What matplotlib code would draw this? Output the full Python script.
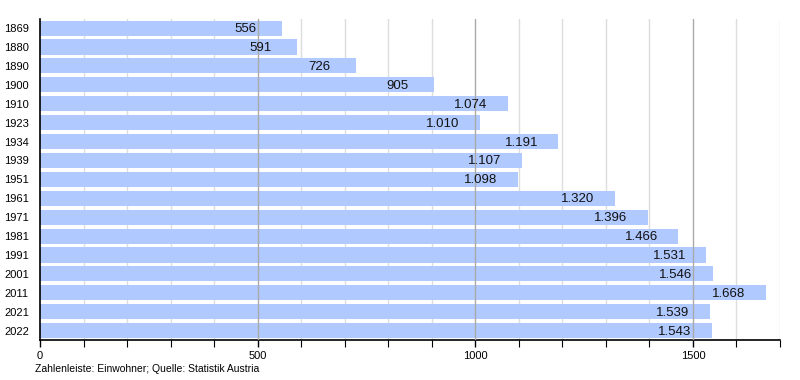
"""Einwohnerentwicklung as horizontal bar chart."""
import matplotlib
matplotlib.use("Agg")
import matplotlib.pyplot as plt
from matplotlib.ticker import MultipleLocator

YEARS = ["1869", "1880", "1890", "1900", "1910", "1923", "1934", "1939", "1951",
         "1961", "1971", "1981", "1991", "2001", "2011", "2021", "2022"]
POPULATION = [556, 591, 726, 905, 1074, 1010, 1191, 1107, 1098,
              1320, 1396, 1466, 1531, 1546, 1668, 1539, 1543]
X_TICKS = [0, 500, 1000, 1500]
FOOTNOTE = "Zahlenleiste: Einwohner; Quelle: Statistik Austria"

BAR_COLOR = "#b0c9ff"

plt.rcParams["font.family"] = ["Liberation Sans", "DejaVu Sans"]


def fmt_de(n: int) -> str:
    return f"{n:,}".replace(",", ".")


def main() -> None:
    fig = plt.figure(figsize=(8, 3.8), dpi=100)
    ax = fig.add_axes([0.05, 0.105, 0.925, 0.846])

    ypos = list(range(len(YEARS)))
    ax.barh(ypos, POPULATION, height=0.8, color=BAR_COLOR, zorder=2)

    for y, v in zip(ypos, POPULATION):
        ax.annotate(fmt_de(v), (v, y), xytext=(-37, -1), textcoords="offset pixels",
                    ha="center", va="center", fontsize=9.5, color="#111111", zorder=4)

    ax.set_xlim(0, 1700)
    ax.set_ylim(len(YEARS) - 0.5, -0.5)
    ax.set_yticks(ypos)
    ax.set_yticklabels(YEARS, fontsize=8)
    ax.set_xticks(X_TICKS)
    ax.set_xticklabels([str(t) for t in X_TICKS], fontsize=8)
    ax.xaxis.set_minor_locator(MultipleLocator(100))

    ax.tick_params(axis="y", length=0, pad=8)
    ax.tick_params(axis="x", which="major", length=5, width=1, pad=3)
    ax.tick_params(axis="x", which="minor", length=5, width=0.8)

    # light minor grid under the bars, darker major grid over them
    for v in range(100, 1800, 100):
        if v % 500 == 0:
            ax.axvline(v, color="#aaaaaa", lw=1, zorder=3)
        else:
            ax.axvline(v, color="#dddddd", lw=1, zorder=1)

    for side in ("top", "right"):
        ax.spines[side].set_visible(False)
    ax.spines["left"].set_linewidth(1.2)
    ax.spines["bottom"].set_linewidth(1.2)

    fig.text(0.044, 0.015, FOOTNOTE, fontsize=7.5, ha="left", va="bottom")

    fig.savefig("out.png", dpi=100)


if __name__ == "__main__":
    main()
